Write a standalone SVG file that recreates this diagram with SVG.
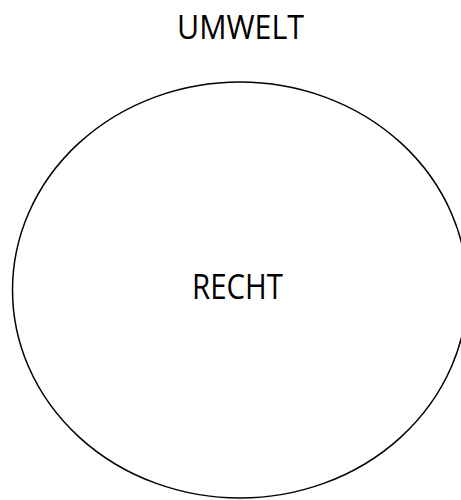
<svg xmlns="http://www.w3.org/2000/svg" width="461" height="500" viewBox="0 0 461 500">
<style>
.lbl{font-family:"Open Sans","Liberation Sans",sans-serif;fill:#000;text-anchor:middle}
.shape{fill:none;stroke:#000;stroke-width:1.5}
</style>
<rect width="461" height="500" fill="#fff"/>
<g id="umwelt">
<text class="lbl" x="240.5" y="39" font-size="33" textLength="127" lengthAdjust="spacingAndGlyphs">UMWELT</text>
</g>
<g id="recht">
<ellipse class="shape" cx="240" cy="290" rx="227.5" ry="208"/>
<text class="lbl" x="237.5" y="299" font-size="34" textLength="91" lengthAdjust="spacingAndGlyphs" font-family="Inter,'Liberation Sans',sans-serif">RECHT</text>
</g>
<g id="connectors"/>
</svg>
